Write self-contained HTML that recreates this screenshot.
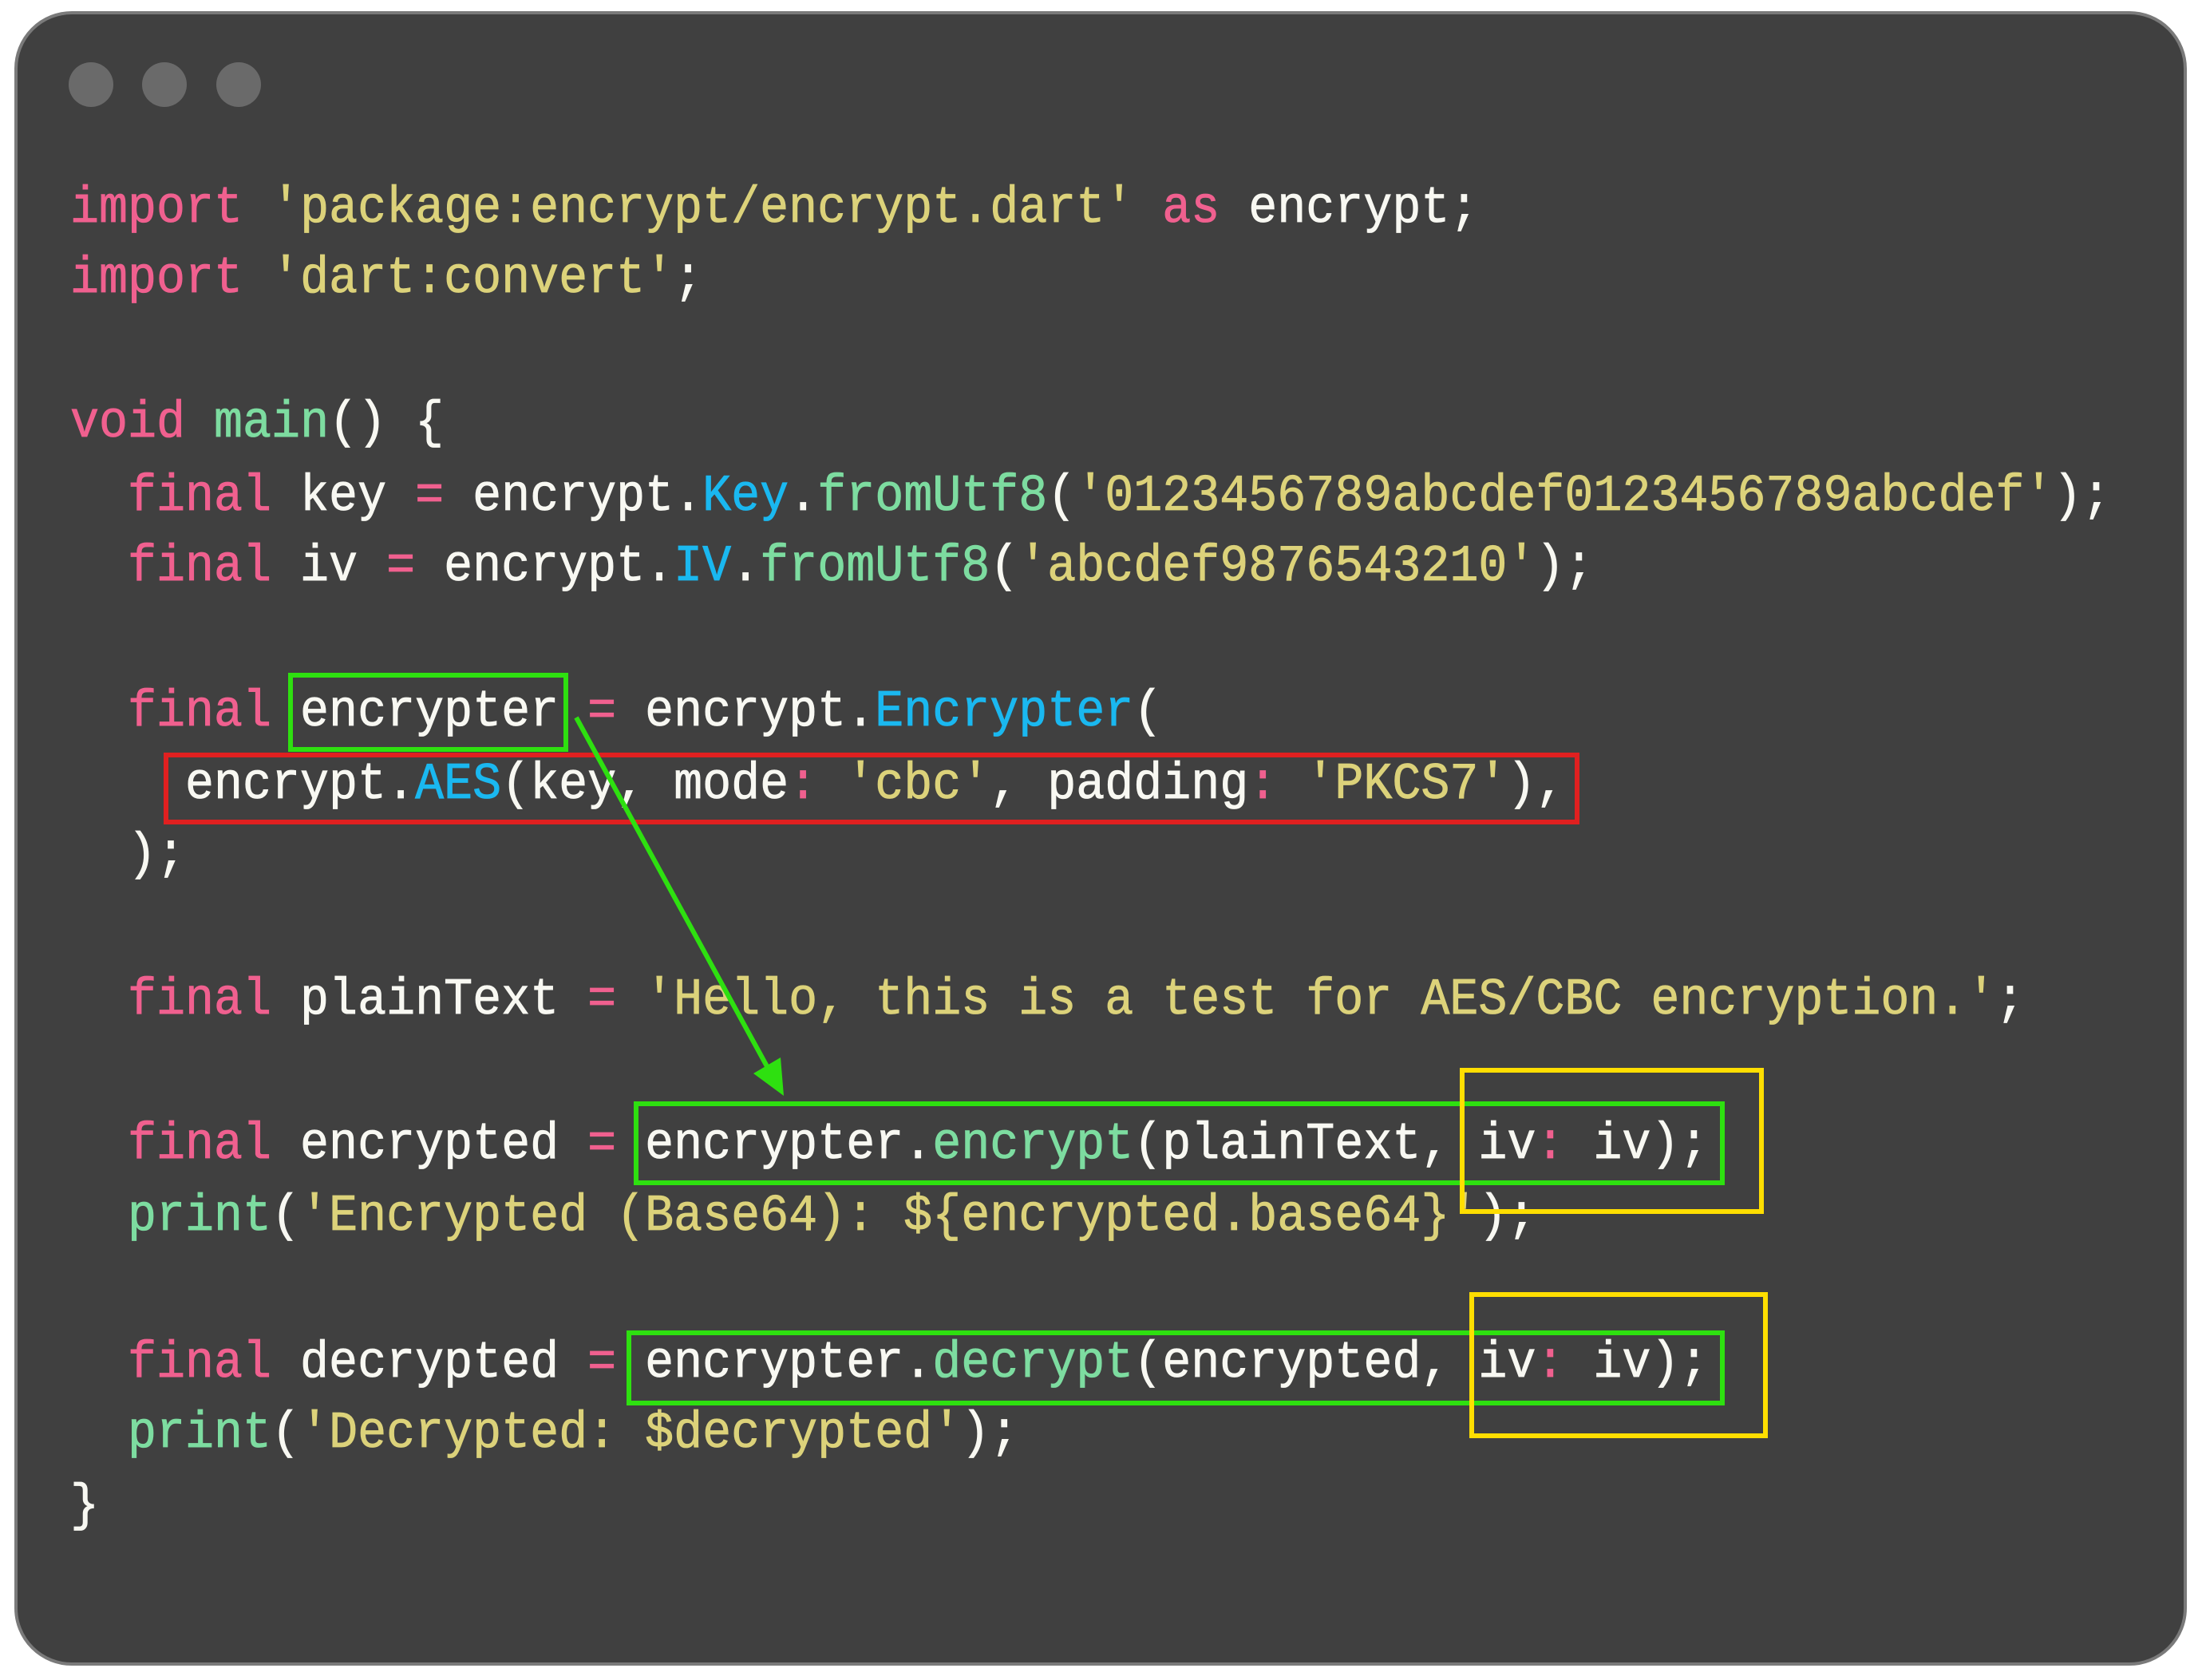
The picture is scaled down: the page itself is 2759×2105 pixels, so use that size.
<!DOCTYPE html>
<html><head><meta charset="utf-8"><style>
html,body{margin:0;padding:0;background:#fff;}
body{width:2759px;height:2105px;position:relative;overflow:hidden;}
.card{position:absolute;left:18px;top:14px;width:2722px;height:2073px;background:#404040;border:4px solid #7a7a7a;border-radius:72px;box-sizing:border-box;}
.dot{position:absolute;width:56px;height:56px;border-radius:50%;background:#6a6a6a;top:78px;}
.l{position:absolute;left:88px;height:90px;line-height:90px;font-family:"Liberation Mono",monospace;font-size:60px;white-space:pre;color:#f8f8f2;transform:scaleY(1.08);transform-origin:0 50%;-webkit-text-stroke:0.8px currentColor;}
.k{color:#f0608f}.s{color:#dcd27a}.c{color:#1ab8f0}.f{color:#7ddca0}.w{color:#f8f8f2}
svg{position:absolute;left:0;top:0;}
</style></head><body>
<div class="card"></div>
<div class="dot" style="left:86px"></div>
<div class="dot" style="left:178px"></div>
<div class="dot" style="left:271px"></div>

<div class="l" style="top:217px"><span class="k">import</span> <span class="s">'package:encrypt/encrypt.dart'</span> <span class="k">as</span> encrypt;</div>
<div class="l" style="top:305px"><span class="k">import</span> <span class="s">'dart:convert'</span>;</div>
<div class="l" style="top:486px"><span class="k">void</span> <span class="f">main</span>() {</div>
<div class="l" style="top:578px">  <span class="k">final</span> key <span class="k">=</span> encrypt.<span class="c">Key</span>.<span class="f">fromUtf8</span>(<span class="s">'0123456789abcdef0123456789abcdef'</span>);</div>
<div class="l" style="top:666px">  <span class="k">final</span> iv <span class="k">=</span> encrypt.<span class="c">IV</span>.<span class="f">fromUtf8</span>(<span class="s">'abcdef9876543210'</span>);</div>
<div class="l" style="top:848px">  <span class="k">final</span> encrypter <span class="k">=</span> encrypt.<span class="c">Encrypter</span>(</div>
<div class="l" style="top:939px">    encrypt.<span class="c">AES</span>(key, mode<span class="k">:</span> <span class="s">'cbc'</span>, padding<span class="k">:</span> <span class="s">'PKCS7'</span>),</div>
<div class="l" style="top:1027px">  );</div>
<div class="l" style="top:1209px">  <span class="k">final</span> plainText <span class="k">=</span> <span class="s">'Hello, this is a test for AES/CBC encryption.'</span>;</div>
<div class="l" style="top:1390px">  <span class="k">final</span> encrypted <span class="k">=</span> encrypter.<span class="f">encrypt</span>(plainText, iv<span class="k">:</span> iv);</div>
<div class="l" style="top:1480px">  <span class="f">print</span>(<span class="s">'Encrypted (Base64): ${encrypted.base64}'</span>);</div>
<div class="l" style="top:1664px">  <span class="k">final</span> decrypted <span class="k">=</span> encrypter.<span class="f">decrypt</span>(encrypted, iv<span class="k">:</span> iv);</div>
<div class="l" style="top:1752px">  <span class="f">print</span>(<span class="s">'Decrypted: $decrypted'</span>);</div>
<div class="l" style="top:1843px">}</div>

<svg width="2759" height="2105" viewBox="0 0 2759 2105">
<g fill="none" stroke-width="6">
<rect x="364" y="846" width="345" height="93" stroke="#2ee010"/>
<rect x="208" y="946" width="1768" height="84" stroke="#e02020"/>
<rect x="797" y="1383" width="1361" height="99" stroke="#2ee010"/>
<rect x="1832" y="1341" width="375" height="177" stroke="#ffde00"/>
<rect x="788" y="1670" width="1370" height="88" stroke="#2ee010"/>
<rect x="1844" y="1622" width="368" height="177" stroke="#ffde00"/>
<line x1="722" y1="899" x2="962" y2="1338" stroke="#2ee010" stroke-width="6"/>
</g>
<polygon points="982,1373 944,1345 978,1325" fill="#2ee010"/>
</svg>
</body></html>
